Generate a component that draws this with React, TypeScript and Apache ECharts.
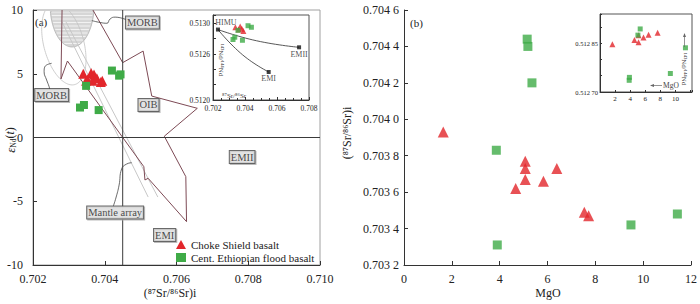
import React, { useEffect, useRef } from "react";
import * as echarts from "echarts";

const FONT = "'Liberation Serif', 'Times New Roman', serif";
const RED = "#e2262b";
const GREEN = "#3fab47";
const POLY = "#7d4a55";
const AXIS = "#333";

// ---------- Panel (a): eNd(t) vs (87Sr/86Sr)i ----------
const chokeA: number[][] = [
  [0.7034, 5.0], [0.70362, 5.05], [0.7037, 4.95], [0.70352, 4.55], [0.70366, 4.45],
  [0.70378, 4.65], [0.70389, 4.35], [0.70393, 4.45], [0.70348, 4.45],
];
const ethA: number[][] = [
  [0.7042, 5.25], [0.7044, 4.85], [0.70444, 4.95], [0.70348, 4.05],
  [0.70331, 2.35], [0.70342, 2.55], [0.70383, 2.15],
];
// reference-field outlines
const oibOutline: number[][] = [
  [0.70281, 10], [0.70278, 4.59], [0.70296, 6.0], [0.70509, -2.29], [0.70512, -3.33],
  [0.70521, -3.2], [0.70628, -6.6], [0.70626, -3.07], [0.70566, 0.1], [0.70658, 2.29],
  [0.70531, 3.25], [0.70507, 6.78], [0.7045, 5.87], [0.70367, 10],
];
const mantleArray1: number[][] = [[0.70281, 9.06], [0.70521, -4.67]];
const mantleArray2: number[][] = [[0.70292, 9.06], [0.70548, -4.67]];
const refLineV: number[][] = [[0.7045, -10], [0.7045, 10]];
const refLineH: number[][] = [[0.702, 0], [0.71, 0]];
const morbCalloutTop: number[][] = [
  [0.70364, 9.17], [0.70387, 9.02], [0.70406, 8.96], [0.70415, 9.3], [0.70429, 9.44], [0.70459, 9.25],
];
const morbCalloutLeft: number[][] = [
  [0.70252, 5.82], [0.70233, 5.55], [0.70231, 5.16], [0.70238, 4.51], [0.70245, 3.98], [0.70247, 3.73],
];
const mantleCallout: number[][] = [
  [0.70423, -5.45], [0.70431, -4.75], [0.7044, -3.73], [0.70447, -2.47], [0.70461, -2.08], [0.70475, -1.98],
];
const fieldLabels = [
  { name: "MORB", value: [0.70505, 9.02] },
  { name: "MORB", value: [0.70252, 3.33] },
  { name: "OIB", value: [0.70522, 2.55] },
  { name: "EMII", value: [0.70783, -1.53] },
  { name: "Mantle array", value: [0.70429, -5.88] },
  { name: "EMI", value: [0.70567, -7.65] },
];
const morbHatched = { center: [0.70309, 10.39], rx: 0.000613, ry: 3.29, angle: 0 };
const morbOutline = { center: [0.70286, 7.33], rx: 0.00117, ry: 1.57, angle: 75 };

// inset of panel (a): 143Nd/144Nd vs 87Sr/86Sr
const endMembers = [
  { name: "HIMU", value: [0.70231, 0.51292], label: { position: "top", offset: [8, 1] } },
  { name: "EMII", value: [0.70738, 0.512688], label: { position: "bottom", offset: [0, -1] } },
  { name: "EMI", value: [0.70548, 0.512366], label: { position: "bottom", offset: [0, -1] } },
];
const mixHimuEmii: number[][] = [[0.70231, 0.51292], [0.70471, 0.512774], [0.70738, 0.512688]];
const mixHimuEmi: number[][] = [[0.70231, 0.51292], [0.70386, 0.512588], [0.70548, 0.512366]];
const chokeInsetA: number[][] = [
  [0.7034, 0.51295], [0.7036, 0.51292], [0.7037, 0.51296], [0.7039, 0.5129], [0.7038, 0.51293],
];
const ethInsetA: number[][] = [
  [0.70336, 0.51282], [0.70325, 0.51279], [0.70384, 0.51278], [0.70419, 0.51297],
  [0.7044, 0.51295], [0.70356, 0.51291],
];

// ---------- Panel (b): (87Sr/86Sr)i vs MgO ----------
const chokeB: number[][] = [
  [1.64, 0.70393], [5.07, 0.70377], [5.07, 0.70373], [5.07, 0.70367], [4.67, 0.70362],
  [5.83, 0.70366], [6.39, 0.70373], [7.54, 0.70349], [7.72, 0.70347],
];
const ethB: number[][] = [
  [5.15, 0.70444], [5.18, 0.7044], [5.35, 0.7042], [3.86, 0.70383], [3.9, 0.70331],
  [9.49, 0.70342], [11.43, 0.70348],
];
// inset of panel (b): 143Nd/144Nd vs MgO
const chokeInsetB: number[][] = [
  [1.64, 0.512847], [4.57, 0.51286], [5.11, 0.512853], [5.11, 0.512875], [5.77, 0.512868],
  [6.44, 0.512876], [7.64, 0.512882],
];
const ethInsetB: number[][] = [
  [5.33, 0.512894], [5.03, 0.512875], [11.33, 0.512836], [9.33, 0.512757], [3.87, 0.512736], [3.9, 0.512745],
];

const NAME_CHOKE = "Choke Shield basalt";
const NAME_ETH = "Cent. Ethiopian flood basalt";

function ellipseRender(spec: any, hatch: boolean) {
  return (params: any, api: any) => {
    const c = api.coord(spec.center);
    const sx = api.size([1, 0])[0];
    const sy = api.size([0, 1])[1];
    const a = spec.rx * sx;
    const b = spec.ry * sy;
    const th = (spec.angle * Math.PI) / 180;
    const top = params.coordSys.y;
    const phi = Math.atan2(b * Math.cos(th), a * Math.sin(th));
    const t0 = phi + Math.PI;
    const pts: number[][] = [];
    const N = 120;
    for (let i = 0; i <= N; i++) {
      const t = t0 + (i / N) * Math.PI * 2;
      const x = c[0] + a * Math.cos(t) * Math.cos(th) - b * Math.sin(t) * Math.sin(th);
      const y = c[1] + a * Math.cos(t) * Math.sin(th) + b * Math.sin(t) * Math.cos(th);
      if (y >= top) pts.push([x, y]);
    }
    if (!hatch) {
      return { type: "polyline", shape: { points: pts }, style: { stroke: "#c2c2c2", lineWidth: 0.8, fill: null }, silent: true };
    }
    const children: any[] = [
      { type: "polygon", shape: { points: pts }, style: { fill: "#d6d6d6", stroke: "#b0b0b0", lineWidth: 0.8 } },
    ];
    for (let y = top + 2; y < c[1] + b; y += 3.5) {
      const dy = (y - c[1]) / b;
      if (Math.abs(dy) >= 1) continue;
      const hw = a * Math.sqrt(1 - dy * dy) - 1;
      if (hw <= 0) continue;
      children.push({ type: "line", shape: { x1: c[0] - hw, y1: y, x2: c[0] + hw, y2: y }, style: { stroke: "#f2f2f2", lineWidth: 1 } });
    }
    return { type: "group", children, silent: true };
  };
}

const axisCommon = (fontSize: number, margin: number) => ({
  axisLine: { onZero: false, lineStyle: { color: AXIS, width: 1 } },
  axisTick: { inside: true, length: 4, lineStyle: { color: AXIS } },
  splitLine: { show: false },
  axisLabel: { fontFamily: FONT, fontSize, color: "#222", margin },
});

function lineSeries(data: number[][], color: string, width: number, xi: number, smooth = false, z = 2) {
  return {
    type: "line", data, xAxisIndex: xi, yAxisIndex: xi, symbol: "none", smooth,
    lineStyle: { color, width }, silent: true, z,
  };
}

export default function App() {
  const ref = useRef<HTMLDivElement>(null);
  useEffect(() => {
    if (!ref.current) return;
    const chart = echarts.init(ref.current, undefined, { renderer: "svg" });
    const sp4 = (v: number) => {
      const s = v.toFixed(4);
      return s.slice(0, 5) + " " + s.slice(5);
    };
    chart.setOption({
      animation: false,
      backgroundColor: "#fff",
      textStyle: { fontFamily: FONT },
      grid: [
        { left: 33, top: 10, width: 287, height: 255, show: true, borderColor: "#a0a0a0", borderWidth: 1 },
        { left: 404, top: 10, width: 288, height: 255 },
        { left: 213, top: 15, width: 96, height: 85, show: true, borderColor: "#555", borderWidth: 1, backgroundColor: "#fff", z: 3 },
        { left: 600, top: 14, width: 92, height: 78, show: true, borderColor: "#555", borderWidth: 1, backgroundColor: "#fff", z: 3 },
      ],
      xAxis: [
        { gridIndex: 0, type: "value", min: 0.702, max: 0.71, interval: 0.002, ...axisCommon(12, 8),
          axisLabel: { ...axisCommon(12, 8).axisLabel, formatter: (v: number) => v.toFixed(3) } },
        { gridIndex: 1, type: "value", min: 0, max: 12, interval: 2, ...axisCommon(12, 8) },
        { gridIndex: 2, type: "value", min: 0.702, max: 0.708, interval: 0.002, z: 4, ...axisCommon(7.5, 4),
          axisTick: { inside: true, length: 3, lineStyle: { color: AXIS } },
          minorTick: { show: true, splitNumber: 4, length: 2, lineStyle: { color: AXIS } },
          axisLabel: { ...axisCommon(7.5, 4).axisLabel, formatter: (v: number) => v.toFixed(3) } },
        { gridIndex: 3, type: "value", min: 0, max: 12.2, interval: 2, z: 4, ...axisCommon(7, 3),
          axisTick: { inside: true, length: 2, lineStyle: { color: AXIS } },
          axisLabel: { ...axisCommon(7, 3).axisLabel, formatter: (v: number) => (v > 0 && v < 11 ? String(v) : "") } },
      ],
      yAxis: [
        { gridIndex: 0, type: "value", min: -10, max: 10, interval: 5, ...axisCommon(12, 10) },
        { gridIndex: 1, type: "value", min: 0.7032, max: 0.7046, interval: 0.0002, ...axisCommon(12, 5),
          axisLabel: { ...axisCommon(12, 5).axisLabel, formatter: sp4 } },
        { gridIndex: 2, type: "value", min: 0.512, max: 0.51311, interval: 0.0002, z: 4, ...axisCommon(7.5, 3),
          axisTick: { inside: true, length: 3, lineStyle: { color: AXIS } },
          axisLabel: { ...axisCommon(7.5, 3).axisLabel, formatter: (v: number) => {
            const r = Math.round(v * 1e4);
            return r === 5120 || r === 5126 || r === 5130 ? v.toFixed(4) : "";
          } } },
        { gridIndex: 3, type: "value", min: 0.5127, max: 0.51294, interval: 0.00005, z: 4, ...axisCommon(6.5, 2),
          axisTick: { inside: true, length: 2, lineStyle: { color: AXIS } },
          axisLabel: { ...axisCommon(6.5, 2).axisLabel, formatter: (v: number) => {
            const r = Math.round(v * 1e5);
            return r === 51285 ? "0.512 85" : r === 51270 ? "0.512 70" : "";
          } } },
      ],
      legend: {
        left: 176, top: 239, orient: "vertical", itemGap: 2, itemWidth: 10, itemHeight: 9, padding: 0,
        selectedMode: false, textStyle: { fontFamily: FONT, fontSize: 11, color: "#222" },
        data: [{ name: NAME_CHOKE, icon: "triangle" }, { name: NAME_ETH, icon: "rect" }],
      },
      series: [
        { type: "custom", xAxisIndex: 0, yAxisIndex: 0, data: [morbHatched.center], renderItem: ellipseRender(morbHatched, true), silent: true, z: 1, clip: false },
        { type: "custom", xAxisIndex: 0, yAxisIndex: 0, data: [morbOutline.center], renderItem: ellipseRender(morbOutline, false), silent: true, z: 1, clip: false },
        lineSeries(mantleArray1, "#c8c8c8", 1, 0),
        lineSeries(mantleArray2, "#c8c8c8", 1, 0),
        lineSeries(oibOutline, POLY, 1, 0),
        lineSeries(refLineV, "#3a3a3a", 1, 0),
        lineSeries(refLineH, "#3a3a3a", 1, 0),
        lineSeries(morbCalloutTop, "#444", 0.8, 0, true),
        lineSeries(morbCalloutLeft, "#444", 0.8, 0, true),
        lineSeries(mantleCallout, "#444", 0.8, 0, true),
        { type: "scatter", name: NAME_CHOKE, xAxisIndex: 0, yAxisIndex: 0, data: chokeA, symbol: "triangle", symbolSize: 10, itemStyle: { color: RED, opacity: 1 }, z: 5 },
        { type: "scatter", name: NAME_ETH, xAxisIndex: 0, yAxisIndex: 0, data: ethA, symbol: "rect", symbolSize: 8, itemStyle: { color: GREEN, opacity: 1 }, z: 5 },
        { type: "scatter", name: "labels", xAxisIndex: 0, yAxisIndex: 0, data: fieldLabels, symbolSize: 1, itemStyle: { color: "transparent" }, z: 6, silent: true,
          label: { show: true, position: "inside", formatter: "{b}", fontFamily: FONT, fontSize: 10.5, color: "#1a1a1a",
            backgroundColor: "#ebebeb", borderColor: "#444", borderWidth: 1, padding: [1, 1, 0, 1],
            shadowColor: "#aaa", shadowOffsetX: 1, shadowOffsetY: 1 } },
        // inset (a)
        lineSeries(mixHimuEmii, "#444", 0.9, 2, true, 5),
        lineSeries(mixHimuEmi, "#444", 0.9, 2, true, 5),
        { type: "scatter", name: "endmembers", xAxisIndex: 2, yAxisIndex: 2, data: endMembers, symbol: "rect", symbolSize: 4, itemStyle: { color: "#111" }, z: 6,
          label: { show: true, formatter: "{b}", fontFamily: FONT, fontSize: 8, color: "#222", distance: 2 } },
        { type: "scatter", name: NAME_CHOKE, xAxisIndex: 2, yAxisIndex: 2, data: chokeInsetA, symbol: "triangle", symbolSize: 6, itemStyle: { color: RED }, z: 7 },
        { type: "scatter", name: NAME_ETH, xAxisIndex: 2, yAxisIndex: 2, data: ethInsetA, symbol: "rect", symbolSize: 5, itemStyle: { color: GREEN }, z: 7 },
        // panel (b)
        { type: "scatter", name: NAME_CHOKE, xAxisIndex: 1, yAxisIndex: 1, data: chokeB, symbol: "triangle", symbolSize: 11, itemStyle: { color: RED }, z: 5 },
        { type: "scatter", name: NAME_ETH, xAxisIndex: 1, yAxisIndex: 1, data: ethB, symbol: "rect", symbolSize: 9, itemStyle: { color: GREEN }, z: 5 },
        // inset (b)
        { type: "scatter", name: NAME_CHOKE, xAxisIndex: 3, yAxisIndex: 3, data: chokeInsetB, symbol: "triangle", symbolSize: 6, itemStyle: { color: RED }, z: 7 },
        { type: "scatter", name: NAME_ETH, xAxisIndex: 3, yAxisIndex: 3, data: ethInsetB, symbol: "rect", symbolSize: 5, itemStyle: { color: GREEN }, z: 7 },
      ],
      graphic: [
        { type: "text", x: 35, y: 22, style: { text: "(a)", fontFamily: FONT, fontSize: 11, fill: "#222", verticalAlign: "middle" } },
        { type: "text", x: 410, y: 23, style: { text: "(b)", fontFamily: FONT, fontSize: 11, fill: "#222", verticalAlign: "middle" } },
        { type: "text", x: 10, y: 140, rotation: Math.PI / 2, style: {
            text: "{e|ε}{s|Nd}{n|(}{i|t}{n|)}", align: "center", verticalAlign: "middle", fill: "#222",
            rich: {
              e: { fontFamily: FONT, fontSize: 13, fontStyle: "italic", fill: "#222" },
              s: { fontFamily: FONT, fontSize: 7.5, fill: "#222", verticalAlign: "bottom", padding: [6, 0, 0, 0] },
              n: { fontFamily: FONT, fontSize: 12, fill: "#222" },
              i: { fontFamily: FONT, fontSize: 12, fontStyle: "italic", fill: "#222" },
            } } },
        { type: "text", x: 170, y: 293, style: { text: "(⁸⁷Sr/⁸⁶Sr)i", fontFamily: FONT, fontSize: 12, fill: "#222", align: "center", verticalAlign: "middle" } },
        { type: "text", x: 548, y: 293, style: { text: "MgO", fontFamily: FONT, fontSize: 12, fill: "#222", align: "center", verticalAlign: "middle" } },
        { type: "text", x: 347, y: 133, rotation: Math.PI / 2, style: { text: "(⁸⁷Sr/⁸⁶Sr)i", fontFamily: FONT, fontSize: 12, fill: "#222", align: "center", verticalAlign: "middle" } },
        // inset (a) axis titles
        { type: "text", x: 222, y: 96, z: 10, style: { text: "⁸⁷Sr/⁸⁶Sr", fontFamily: FONT, fontSize: 7, fill: "#444", verticalAlign: "middle" } },
        { type: "text", x: 221, y: 60, z: 10, rotation: -Math.PI / 2, style: { text: "¹⁴³Nd/¹⁴⁴Nd", fontFamily: FONT, fontSize: 7, fill: "#444", align: "center", verticalAlign: "middle" } },
        // inset (b) axis titles and arrows
        { type: "text", x: 684, y: 69, z: 10, rotation: -Math.PI / 2, style: { text: "¹⁴³Nd/¹⁴⁴Nd", fontFamily: FONT, fontSize: 7, fill: "#444", align: "center", verticalAlign: "middle" } },
        { type: "line", z: 10, shape: { x1: 684.5, y1: 47, x2: 684.5, y2: 34 }, style: { stroke: "#666", lineWidth: 0.7 } },
        { type: "polygon", z: 10, shape: { points: [[684.5, 33], [683, 37], [686, 37]] }, style: { fill: "#666" } },
        { type: "text", x: 663, y: 85.5, z: 10, style: { text: "MgO", fontFamily: FONT, fontSize: 7.5, fill: "#444", verticalAlign: "middle" } },
        { type: "line", z: 10, shape: { x1: 651, y1: 85.5, x2: 662, y2: 85.5 }, style: { stroke: "#666", lineWidth: 0.7 } },
        { type: "polygon", z: 10, shape: { points: [[650, 85.5], [654, 84], [654, 87]] }, style: { fill: "#666" } },
      ],
    });
    return () => chart.dispose();
  }, []);
  return <div ref={ref} style={{ position: "absolute", left: 0, top: 0, width: 700, height: 304 }} />;
}
